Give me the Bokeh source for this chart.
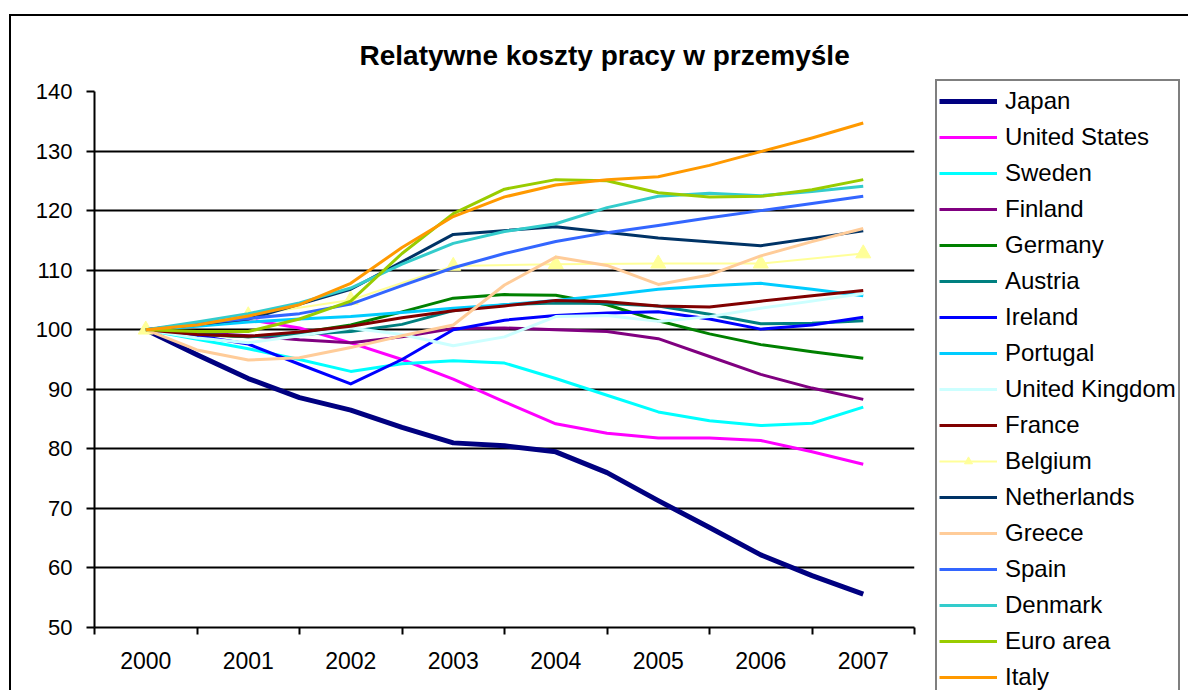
from bokeh.plotting import figure
from bokeh.models import FixedTicker, Legend, LegendItem
from bokeh.embed import file_html
from bokeh.resources import INLINE

FONT = "Liberation Sans"

title_text = "Relatywne koszty pracy w przemyśle"

# half-yearly reading positions
periods = [2000, 2000.5, 2001, 2001.5, 2002, 2002.5, 2003, 2003.5, 2004, 2004.5, 2005, 2005.5, 2006, 2006.5, 2007]
years = [2000, 2001, 2002, 2003, 2004, 2005, 2006, 2007]
year_labels = ["2000", "2001", "2002", "2003", "2004", "2005", "2006", "2007"]
y_ticks = [50, 60, 70, 80, 90, 100, 110, 120, 130, 140]

japan = [100, 95.8, 91.8, 88.6, 86.5, 83.6, 81.0, 80.5, 79.5, 76.0, 71.3, 66.8, 62.2, 58.7, 55.6]
united_states = [100, 101.0, 101.7, 100.3, 97.8, 95.0, 91.7, 87.9, 84.2, 82.6, 81.8, 81.8, 81.4, 79.5, 77.4]
sweden = [100, 98.4, 96.8, 95.0, 93.0, 94.3, 94.8, 94.4, 91.8, 89.0, 86.2, 84.7, 83.9, 84.3, 87.0]
finland = [100, 99.5, 99.0, 98.3, 97.8, 98.8, 100.2, 100.3, 100.0, 99.7, 98.5, 95.5, 92.5, 90.2, 88.3]
germany = [100, 99.2, 98.8, 99.5, 100.8, 103.0, 105.3, 105.9, 105.8, 104.2, 101.5, 99.3, 97.5, 96.3, 95.2]
austria = [100, 99.3, 98.8, 99.2, 99.7, 100.9, 103.2, 104.2, 104.5, 104.4, 104.0, 102.6, 101.0, 101.1, 101.5]
ireland = [100, 99.0, 97.6, 94.2, 90.9, 95.0, 100.0, 101.6, 102.4, 102.8, 103.0, 101.8, 100.1, 100.8, 102.1]
portugal = [100, 100.6, 101.3, 101.8, 102.2, 102.9, 103.6, 104.2, 104.9, 105.8, 106.8, 107.4, 107.8, 106.8, 105.7]
united_kingdom = [100, 98.6, 97.8, 99.0, 100.3, 99.2, 97.3, 98.8, 102.2, 102.4, 101.4, 102.2, 103.6, 104.8, 106.1]
france = [100, 99.2, 98.9, 99.6, 100.6, 102.0, 103.2, 104.0, 104.9, 104.7, 104.0, 103.8, 104.8, 105.7, 106.6]
belgium = [100, 102.4, 105.0, 110.7, 111.0, 111.1, 111.1, 112.8]          # yearly
netherlands = [100, 101.8, 106.8, 116.0, 117.3, 115.4, 114.1, 116.6]      # yearly
greece = [100, 96.6, 94.9, 95.3, 97.0, 99.0, 100.8, 107.5, 112.2, 110.8, 107.6, 109.2, 112.4, 114.8, 117.0]
spain = [100, 101.0, 101.9, 102.7, 104.3, 107.4, 110.4, 112.8, 114.8, 116.3, 117.5, 118.8, 120.0, 121.2, 122.4]
denmark = [100, 101.3, 102.7, 104.5, 107.0, 111.0, 114.5, 116.5, 117.8, 120.5, 122.4, 122.9, 122.5, 123.2, 124.1]
euro_area = [100, 99.7, 99.7, 101.8, 104.8, 112.8, 119.5, 123.6, 125.2, 125.0, 123.0, 122.3, 122.4, 123.5, 125.2]
italy = [100, 100.8, 102.3, 104.2, 107.8, 113.8, 119.0, 122.3, 124.3, 125.2, 125.7, 127.6, 129.9, 132.2, 134.7]

series = [
    ("Japan", periods, japan, "#000080", 5),
    ("United States", periods, united_states, "#FF00FF", 3),
    ("Sweden", periods, sweden, "#00FFFF", 3),
    ("Finland", periods, finland, "#800080", 3),
    ("Germany", periods, germany, "#008000", 3),
    ("Austria", periods, austria, "#008080", 3),
    ("Ireland", periods, ireland, "#0000FF", 3),
    ("Portugal", periods, portugal, "#00CCFF", 3),
    ("United Kingdom", periods, united_kingdom, "#CCFFFF", 3),
    ("France", periods, france, "#800000", 3),
    ("Belgium", years, belgium, "#FFFF99", 2),
    ("Netherlands", years, netherlands, "#003366", 3),
    ("Greece", periods, greece, "#FFCC99", 3),
    ("Spain", periods, spain, "#3366FF", 3),
    ("Denmark", periods, denmark, "#33CCCC", 3),
    ("Euro area", periods, euro_area, "#99CC00", 3),
    ("Italy", periods, italy, "#FF9900", 3),
]

p = figure(frame_width=820, frame_height=536,
           min_border_left=83, min_border_top=74, min_border_right=265, min_border_bottom=63,
           x_range=(1999.5, 2007.5), y_range=(50, 140),
           output_backend="svg", toolbar_location=None)
p.styles = {"border-top": "2px solid black", "border-left": "2px solid black",
            "margin-left": "9px", "margin-top": "14px"}
p.outline_line_color = None
p.background_fill_color = "white"
p.border_fill_color = "white"

# title
p.title.text = title_text
p.title.text_font = FONT
p.title.text_font_size = "28px"
p.title.text_font_style = "bold"
p.title.text_color = "black"
p.title.align = "left"
p.title.offset = 265
p.title.standoff = 42

# axes
xt = FixedTicker(ticks=years, minor_ticks=[1999.5 + i for i in range(9)])
p.xaxis.ticker = xt
p.xaxis.major_label_overrides = {y: l for y, l in zip(years, year_labels)}
p.xaxis.major_tick_line_color = None
p.xaxis.major_tick_out = 0
p.xaxis.major_tick_in = 0
p.xaxis.minor_tick_line_color = "black"
p.xaxis.minor_tick_line_width = 2
p.xaxis.minor_tick_out = 7
p.xaxis.minor_tick_in = 0
p.xaxis.major_label_standoff = 17
p.xaxis.major_label_text_font = FONT
p.xaxis.major_label_text_font_size = "23px"
p.xaxis.major_label_text_color = "black"
p.xaxis.axis_line_color = "black"
p.xaxis.axis_line_width = 2

p.yaxis.ticker = FixedTicker(ticks=y_ticks)
p.yaxis.minor_tick_line_color = None
p.yaxis.major_tick_line_color = "black"
p.yaxis.major_tick_line_width = 2
p.yaxis.major_tick_out = 8
p.yaxis.major_tick_in = 0
p.yaxis.major_label_standoff = 14
p.yaxis.major_label_text_font = FONT
p.yaxis.major_label_text_font_size = "22px"
p.yaxis.major_label_text_color = "black"
p.yaxis.axis_line_color = "black"
p.yaxis.axis_line_width = 2

p.xgrid.visible = False
p.ygrid.ticker = FixedTicker(ticks=y_ticks)
p.ygrid.grid_line_color = "black"
p.ygrid.grid_line_width = 2

items = []
for name, xs, ys, color, lw in series:
    r = p.line(xs, ys, line_color=color, line_width=lw, line_join="round")
    rs = [r]
    if name == "Belgium":
        m = p.scatter(xs, ys, marker="triangle", size=15, fill_color=color, line_color=color)
        rs.append(m)
    items.append(LegendItem(label=name, renderers=rs))

legend = Legend(items=items, location=(21, -72), orientation="vertical",
                label_text_font=FONT, label_text_font_size="24px", label_text_color="black",
                label_height=36, glyph_height=20, glyph_width=58, label_standoff=8,
                spacing=0, padding=2, margin=0,
                border_line_color="black", border_line_width=2,
                background_fill_color="white", background_fill_alpha=1.0)
p.add_layout(legend, "right")

open("out.html", "w").write(file_html(p, INLINE))
